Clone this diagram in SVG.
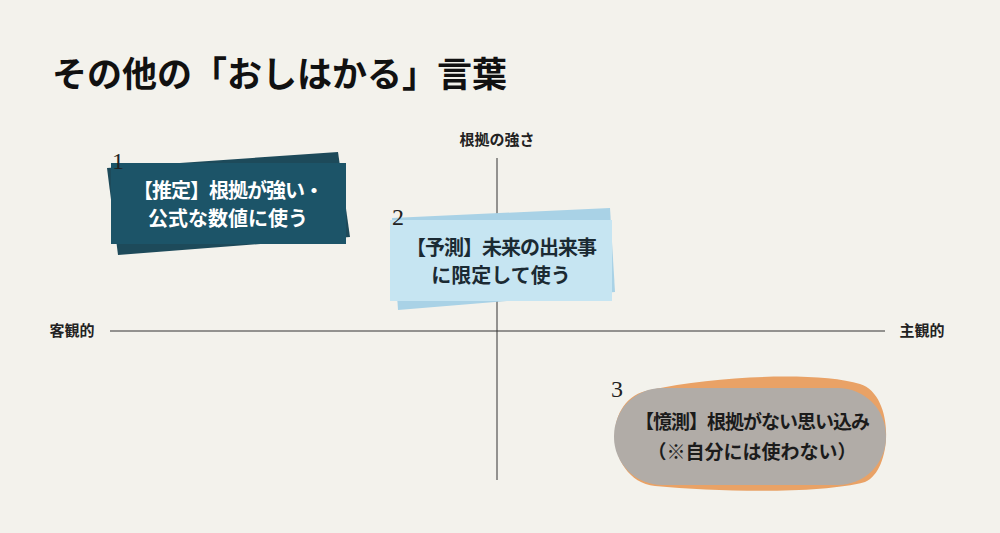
<svg xmlns="http://www.w3.org/2000/svg" width="1000" height="533" viewBox="0 0 1000 533">
<style>
.t{font-family:"Noto Sans CJK JP","Noto Sans",sans-serif;font-weight:bold}
.n{font-family:"Liberation Serif",serif;font-size:24px;fill:#222}
.ax{font-family:"Noto Sans CJK JP",sans-serif;font-weight:bold;font-size:15px;fill:#222}
</style>
<rect width="1000" height="533" fill="#f3f2ec"/>
<text x="52" y="87" class="t" font-size="35" fill="#111">その他の「おしはかる」言葉</text>
<g id="axes" stroke="#333" stroke-width="1">
<line x1="110" y1="331" x2="885" y2="331"/>
<line x1="497" y1="158" x2="497" y2="480"/>
</g>
<text x="497" y="145" class="ax" text-anchor="middle">根拠の強さ</text>
<text x="72" y="336" class="ax" text-anchor="middle">客観的</text>
<text x="922" y="336" class="ax" text-anchor="middle">主観的</text>
<g id="n1">
<polygon points="107,168 338,152 350,237 118,255" fill="#1d4a5a"/>
<rect x="111" y="163" width="235" height="81" fill="#1c5468"/>
<text x="228" y="198" class="t" font-size="20" fill="#fff" text-anchor="middle" letter-spacing="-1">【推定】根拠が強い・</text>
<text x="228" y="226" class="t" font-size="20" fill="#fff" text-anchor="middle">公式な数値に使う</text>
<text x="112" y="169" class="n">1</text>
</g>
<g id="n2">
<polygon points="392,218 610,208 615,292 398,310" fill="#a9d2e6"/>
<rect x="390" y="220" width="222" height="81" fill="#c6e5f2"/>
<text x="501" y="255" class="t" font-size="20" fill="#1b2a33" text-anchor="middle" letter-spacing="-1">【予測】未来の出来事</text>
<text x="501" y="283" class="t" font-size="20" fill="#1b2a33" text-anchor="middle">に限定して使う</text>
<text x="392" y="225" class="n">2</text>
</g>
<g id="n3">
<path d="M650,390 C720,375 820,372 860,384 C895,395 893,470 865,482 C820,494 720,492 655,486 C605,480 600,398 650,390 Z" fill="#e9a266"/>
<rect x="614" y="388" width="272" height="97" rx="48" fill="#b1aca7"/>
<text x="752" y="429" class="t" font-size="19" fill="#1b1b1b" text-anchor="middle" letter-spacing="-1">【憶測】根拠がない思い込み</text>
<text x="752" y="459" class="t" font-size="19" fill="#1b1b1b" text-anchor="middle">（※自分には使わない）</text>
<text x="611" y="397" class="n">3</text>
</g>
</svg>
